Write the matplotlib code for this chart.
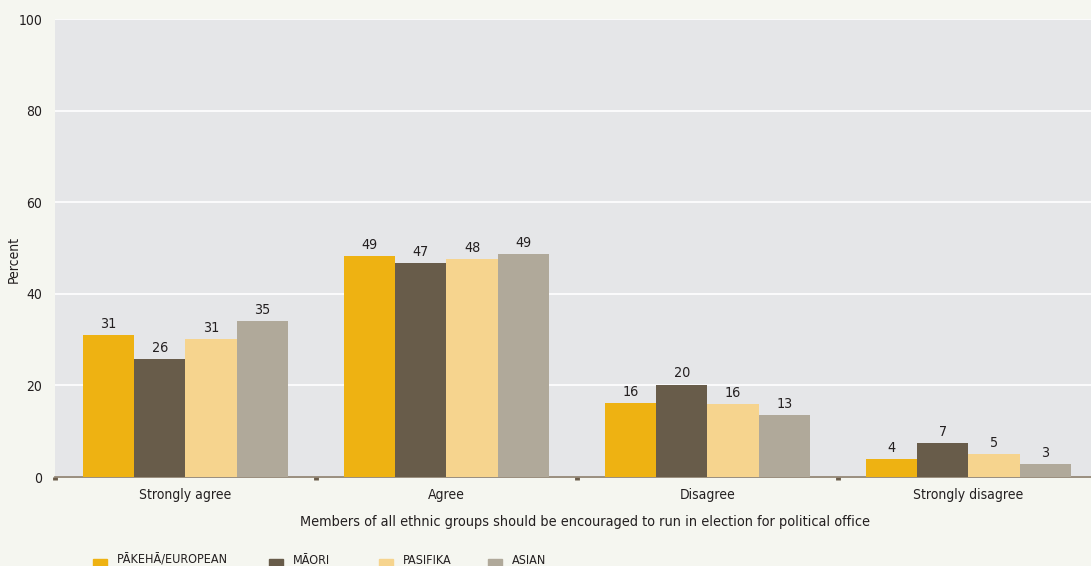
import matplotlib.pyplot as plt
import numpy as np
from matplotlib.patches import Rectangle

plt.rcParams['font.family'] = ['DejaVu Sans']
plt.rcParams['font.stretch'] = 'condensed'

# data
categories = ['Strongly agree', 'Agree', 'Disagree', 'Strongly disagree']
groups = ['PĀKEHĀ/EUROPEAN', 'MĀORI', 'PASIFIKA', 'ASIAN']
pakeha = [31.0, 48.2, 16.1, 3.9]
maori = [25.7, 46.7, 20.2, 7.4]
pasifika = [30.1, 47.5, 15.9, 5.0]
asian = [34.0, 48.6, 13.6, 2.8]
pakeha_lbl = [31, 49, 16, 4]
maori_lbl = [26, 47, 20, 7]
pasifika_lbl = [31, 48, 16, 5]
asian_lbl = [35, 49, 13, 3]
yticks = [0, 20, 40, 60, 80, 100]

values = [pakeha, maori, pasifika, asian]
labels = [pakeha_lbl, maori_lbl, pasifika_lbl, asian_lbl]
colors = ['#EEB212', '#685C4A', '#F6D48E', '#B0A99A']
txt = '#231F20'

fig = plt.figure(figsize=(10.91, 5.66), dpi=100, facecolor='#F5F6F0')
ax = fig.add_axes([0.0504, 0.1572, 0.9569, 0.8092])
ax.set_facecolor('#E5E6E8')

x = np.arange(len(categories))
w = 0.197
for i, (vals, lbls, c) in enumerate(zip(values, labels, colors)):
    pos = x + (i - 1.5) * w
    ax.bar(pos, vals, width=w, color=c, zorder=3)
    for px, v, l in zip(pos, vals, lbls):
        ax.annotate(str(l), (px, v), xytext=(0, 3), textcoords='offset points',
                    ha='center', va='bottom', fontsize=10.3, color=txt)

ax.set_xlim(-0.5, 3.5)
ax.set_ylim(0, 100)
ax.set_yticks(yticks)
ax.grid(axis='y', color='white', linewidth=1.2, zorder=0)
ax.set_xticks(x)
ax.set_xticklabels(categories)
ax.set_xticks([-0.5, 0.5, 1.5, 2.5], minor=True)
ax.tick_params(axis='x', which='major', length=0, pad=8, labelsize=10, labelcolor=txt)
ax.tick_params(axis='x', which='minor', length=2.5, width=3.5, color='#6B5D4B')
ax.tick_params(axis='y', length=0, pad=9, labelsize=10, labelcolor=txt)
for s in ['top', 'right', 'left']:
    ax.spines[s].set_visible(False)
ax.spines['bottom'].set_color('#8A7C6A')
ax.spines['bottom'].set_linewidth(1.2)
fig.text(14 / 1091, 1 - 260 / 566, 'Percent', rotation=90, ha='center', va='center',
         fontsize=10, color=txt)
fig.text(0.536, 1 - 522 / 566, 'Members of all ethnic groups should be encouraged to run in election for political office',
         ha='center', va='center', fontsize=10.4, color=txt)

# legend along the bottom edge
leg_x = [93, 269, 379, 488]
for lx, g, c in zip(leg_x, groups, colors):
    fig.add_artist(Rectangle((lx / 1091, 1 - 573 / 566), 14 / 1091, 14 / 566,
                             transform=fig.transFigure, color=c))
    fig.text((lx + 24) / 1091, 1 - 560 / 566, g, ha='left', va='center',
             fontsize=9, color=txt)

fig.savefig('out.png', dpi=100, facecolor=fig.get_facecolor())
